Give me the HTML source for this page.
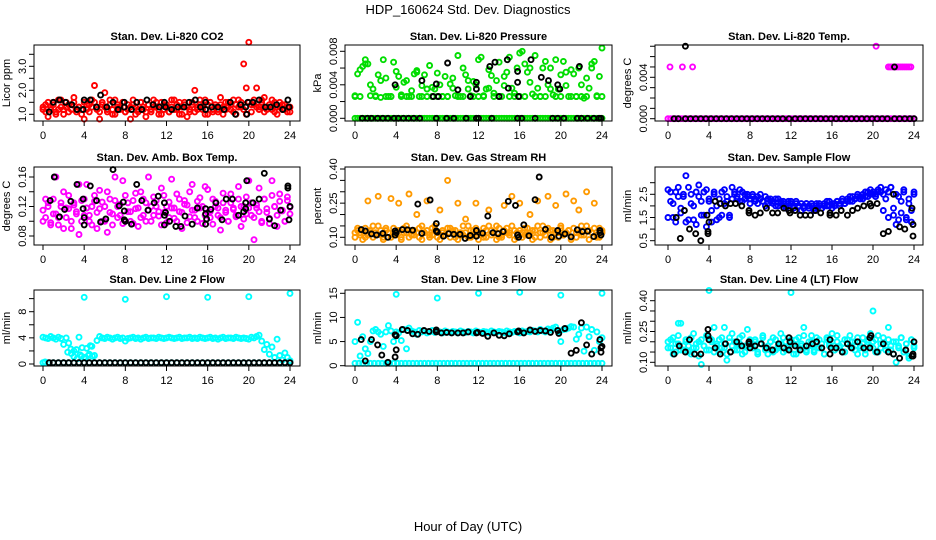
<!DOCTYPE html>
<html><head><meta charset="utf-8"><style>
body{margin:0;background:#fff;}
svg{display:block;font-family:"Liberation Sans",sans-serif;}
</style></head><body>
<svg id="chart" width="936" height="540" viewBox="0 0 936 540" xmlns="http://www.w3.org/2000/svg">
<text x="468" y="14" text-anchor="middle" font-size="13">HDP_160624 Std. Dev. Diagnostics</text>
<text x="468" y="531" text-anchor="middle" font-size="13">Hour of Day (UTC)</text>
</svg>
<script>
// ---- data (hours 0-24; main series evenly spaced over the day) ----
const hourTicks = [0,4,8,12,16,20,24];
const co2A = [1.3,1.1,1.5,1.2,1.4,1.0,1.6,1.3,1.2,1.5,1.1,1.4,1.7,1.2,1.3,1.0,1.5,1.2,1.4,1.6,2.2,1.3,1.1,1.5,1.9,1.2,1.4,1.0,1.6,1.3,1.2,1.5,1.1,1.4,1.3,1.6,1.0,1.2,1.5,1.3,1.1,1.4,1.2,1.6,1.3,1.0,1.5,1.2,1.4,1.1,1.3,1.6,1.2,1.5,1.0,1.4,1.3,1.1,1.5,2.0,1.2,1.4,1.3,1.6,1.0,1.5,1.2,1.4,1.1,1.7,1.3,1.2,1.5,1.4,1.6,1.0,1.3,1.5,3.1,2.1,4.0,1.4,1.6,2.1,1.3,1.5,1.7,1.2,1.4,1.6,1.1,1.3,1.5,1.2,1.4,1.3,1.1];
const co2B = [1.2,1.4,0.9,1.3,1.5,1.1,1.2,1.6,1.0,1.3,1.4,1.2,1.5,1.1,1.3,1.2,0.8,1.4,1.1,1.3,1.5,1.2,0.8,1.4,1.3,1.1,1.6,1.2,1.0,1.4,1.3,1.5,1.1,1.2,0.8,1.4,1.3,1.1,1.5,1.2,0.9,1.4,1.1,1.3,1.5,1.2,1.0,1.4,1.3,1.1,1.6,1.2,1.4,1.0,1.3,1.5,0.9,1.2,1.4,1.1,1.3,1.6,1.2,1.0,1.4,1.5,1.1,1.3,1.2,1.4,1.0,1.5,1.3,1.2,1.1,1.4,1.6,1.3,1.2,1.0,1.5,1.1,1.4,1.3,1.2,1.6,1.1,1.3,1.4,1.2,1.5,1.0,1.3,1.4,1.2,1.1,1.3];
const co2BlackHours = [0.6,1,1.6,2.2,2.8,3.3,3.9,4,4.6,5.2,5.6,6.2,6.8,7.3,7.9,7.9,8.6,9.1,9.6,10.1,10.7,11.3,11.8,11.9,12.5,13.1,13.7,14.2,14.8,15.3,15.8,15.8,16.4,17,17.6,18.2,18.7,19.2,19.7,19.8,19.9,20.4,21,21.6,22.1,22.7,23.3,23.8,23.9];
const co2BlackVals = [1.1,1.5,1.6,1.5,1.4,1.2,1.2,1.6,1.6,1.3,1.8,1.3,1.5,1.2,1.3,1.5,1.2,1.5,1.2,1.6,1.4,1.3,1.5,1.3,1.2,1.3,1.3,1.5,1.6,1.3,1.2,1.5,1.3,1.3,1.2,1.5,1.0,1.4,1.3,1.0,1.5,1.5,1.6,1.3,1.3,1.4,1.2,1.6,1.3];

const pressA = [.0027,.0053,.0058,.0062,.0070,.0065,.0040,.0035,.0027,.0052,.0025,.0070,.0048,.0026,.0026,.0067,.0056,.0050,.0028,.0043,.0045,.0026,.0033,.0053,.0057,.0026,.0039,.0052,.0035,.0063,.0026,.0035,.0054,.0040,.0026,.0050,.0026,.0041,.0048,.0027,.0075,.0026,.0060,.0052,.0035,.0027,.0044,.0040,.0070,.0073,.0027,.0035,.0058,.0051,.0030,.0045,.0067,.0026,.0039,.0055,.0073,.0036,.0030,.0060,.0078,.0080,.0065,.0055,.0043,.0029,.0075,.0036,.0026,.0060,.0068,.0040,.0060,.0028,.0070,.0035,.0052,.0068,.0039,.0026,.0058,.0053,.0026,.0060,.0040,.0024,.0048,.0036,.0065,.0068,.0027,.0050,.0084];
const pressB = [.0026,.0026,.0065,.0027,.0026,.0045,.0026,.0026,.0037,.0026,.0026,.0026,.0055,.0026,.0026,.0037,.0026,.0026,.0026,.0036,.0026,.0026,.0045,.0026,.0026,.0026,.0036,.0026,.0026,.0050,.0026,.0026,.0026,.0026,.0060,.0026,.0026,.0026,.0035,.0026,.0026,.0055,.0026,.0026,.0026,.0026,.0060,.0026,.0026];
const pressZero = [0,0,0,0,0,0,0,0,0,0,0,0,0,0,0,0,0,0,0,0,0,0,0,0,0,0,0,0,0,0,0,0,0,0,0,0,0,0,0,0,0,0,0,0,0,0,0,0,0,0,0,0,0,0,0,0,0,0,0,0,0,0,0,0,0,0,0,0,0,0,0,0,0,0,0,0,0,0,0,0,0,0,0,0,0,0,0,0,0,0,0,0,0,0,0,0,0];
const pressBlackHours = [0.7,1.2,1.6,2.2,2.7,3.2,3.8,4.2,4.7,5.2,5.7,6.3,7.9,8.9,9.6,10.8,11.8,12.0,13.3,15.8,16.2,17.5,19.2,19.7,20.3,21.6,22.0,22.6,23.2,23.7,23.9,3.9,6.5,7.6,7.9,8.1,9.0,10.0,11.2,11.8,11.8,13.1,13.6,14.0,14.9,14.8,15.8,15.8,15.9,17.1,18.1,18.8,19.7,19.9,21.8];
const pressBlackVals = [0,0,0,0,0,0,0,0,0,0,0,0,0,0,0,0,0,0,0,0,0,0,0,0,0,0,0,0,0,0,0,.0040,.0045,.0026,.0041,.0026,.0066,.0034,.0026,.0043,.0035,.0062,.0067,.0026,.0036,.0070,.0056,.0043,.0026,.0070,.0049,.0045,.0040,.0035,.0062];

const tempZero = [0,0,0,0,0,0,0,0,0,0,0,0,0,0,0,0,0,0,0,0,0,0,0,0,0,0,0,0,0,0,0,0,0,0,0,0,0,0,0,0,0,0,0,0,0,0,0,0,0,0,0,0,0,0,0,0,0,0,0,0,0,0,0,0,0,0,0,0,0,0,0,0,0,0,0,0,0,0,0,0,0,0,0,0,0,0,0,0,0,0,0,0,0,0,0,0,0];
const tempHighHours = [0.2,1.4,2.4,20.3,21.5,21.7,21.9,22.1,22.3,22.5,22.7,22.9,23.1,23.3,23.5,23.7];
const tempHighVals = [.005,.005,.005,.007,.005,.005,.005,.005,.005,.005,.005,.005,.005,.005,.005,.005];
const tempBlackHours = [0.6,1.0,1.7,2.2,2.7,3.2,3.7,4.2,4.7,5.2,5.7,6.2,6.7,7.2,7.7,8.2,8.7,9.2,9.7,10.2,10.7,11.2,11.8,12.4,12.9,13.4,13.9,14.4,14.9,15.4,15.9,16.4,16.9,17.4,17.9,18.4,18.9,19.4,19.9,20.4,20.9,21.4,22.1,22.6,23.1,23.6,24.0,1.7,22.1];
const tempBlackVals = [0,0,0,0,0,0,0,0,0,0,0,0,0,0,0,0,0,0,0,0,0,0,0,0,0,0,0,0,0,0,0,0,0,0,0,0,0,0,0,0,0,0,0,0,0,0,0,.007,.005];

const ambA = [.115,.105,.125,.098,.13,.11,.095,.12,.14,.105,.117,.09,.125,.11,.15,.1,.13,.118,.108,.095,.127,.112,.142,.1,.12,.085,.13,.11,.16,.105,.123,.097,.135,.113,.1,.128,.117,.093,.14,.108,.125,.115,.1,.133,.12,.107,.145,.112,.098,.126,.118,.104,.137,.113,.09,.128,.122,.106,.15,.115,.1,.132,.12,.108,.143,.113,.096,.127,.118,.105,.138,.112,.1,.125,.116,.108,.147,.12,.103,.133,.118,.108,.075,.122,.113,.098,.13,.117,.104,.155,.12,.108,.137,.114,.1,.128,.119];
const ambB = [.1,.13,.12,.095,.11,.16,.105,.125,.09,.118,.135,.1,.122,.113,.082,.128,.108,.15,.1,.12,.135,.09,.117,.126,.1,.14,.112,.095,.128,.12,.108,.155,.1,.125,.113,.097,.138,.118,.105,.13,.1,.16,.12,.108,.128,.113,.095,.135,.12,.105,.157,.118,.1,.13,.112,.123,.098,.14,.115,.105,.127,.118,.097,.147,.112,.105,.13,.12,.108,.088,.125,.115,.1,.137,.118,.106,.13,.093,.12,.11,.155,.125,.105,.118,.145,.1,.13,.112,.097,.135,.12,.093,.127,.115,.1,.133,.11];
const ambBlackHours = [0.7,1.1,1.6,2.1,2.7,3.3,3.9,3.9,4,4,4.6,5.2,5.6,6.1,6.8,7.4,7.8,7.9,7.9,8,8.6,9.1,9.6,10.2,10.8,11.2,11.8,11.9,11.8,11.8,12.3,12.9,13.4,13.8,14.5,15,15.8,15.8,15.9,15.8,16.3,16.8,17.4,17.8,18.4,19,19.5,19.7,19.8,19.7,20.4,21,21.5,22,22.5,23.1,23.8,23.8,24,23.9];
const ambBlackVals = [.128,.16,.106,.116,.127,.15,.13,.117,.095,.105,.148,.128,.099,.103,.17,.121,.126,.114,.102,.1,.096,.15,.128,.115,.125,.134,.125,.112,.108,.095,.1,.093,.093,.107,.096,.118,.117,.11,.103,.096,.116,.125,.102,.13,.13,.108,.113,.117,.155,.125,.125,.13,.165,.103,.094,.115,.148,.145,.12,.102];

const rhA = [.12,.14,.11,.13,.1,.26,.12,.15,.11,.28,.13,.1,.14,.12,.27,.11,.13,.25,.1,.14,.12,.29,.11,.13,.2,.1,.15,.12,.26,.11,.14,.13,.1,.22,.12,.11,.35,.14,.13,.1,.25,.12,.11,.18,.15,.1,.13,.25,.12,.11,.14,.1,.22,.13,.12,.15,.1,.11,.24,.14,.12,.28,.13,.1,.25,.12,.11,.14,.2,.13,.1,.26,.12,.15,.11,.28,.13,.1,.24,.12,.14,.11,.29,.13,.1,.26,.12,.22,.15,.11,.3,.13,.12,.25,.1,.14,.12];
const rhB = [.1,.13,.12,.09,.14,.11,.13,.1,.12,.15,.11,.09,.13,.12,.1,.14,.11,.13,.09,.12,.15,.1,.13,.11,.12,.14,.09,.12,.13,.1,.11,.15,.12,.09,.13,.11,.14,.1,.12,.13,.09,.11,.15,.12,.1,.13,.11,.14,.09,.12,.1,.13,.15,.11,.12,.09,.14,.1,.13,.12,.11,.15,.09,.12,.13,.1,.14,.11,.12,.09,.13,.15,.1,.12,.11,.14,.09,.13,.12,.1,.15,.11,.12,.13,.09,.14,.1,.12,.11,.13,.15,.09,.12,.14,.11,.1,.13];
const rhBlackHours = [0.6,1,1.6,2.1,2.7,3.2,3.9,3.9,4,4.6,5.1,5.6,6.1,6.5,7.3,7.9,7.9,8,8.6,9.1,9.6,10.2,10.7,11.2,11.8,11.8,12.4,12.9,13.4,13.9,14.4,14.9,15.6,15.8,15.9,16.4,16.9,17.5,17.9,18.5,19.1,19.7,19.8,20.4,21,21.6,22.1,22.6,23.2,23.8,23.9,23.8];
const rhBlackVals = [.134,.128,.115,.11,.117,.1,.128,.11,.12,.134,.133,.131,.246,.117,.264,.16,.128,.123,.105,.116,.113,.113,.095,.108,.13,.105,.118,.193,.12,.116,.125,.258,.24,.11,.1,.155,.107,.265,.365,.135,.1,.13,.105,.115,.102,.133,.125,.127,.103,.13,.11,.12];

const flowA = [2.7,2.2,1.5,2.6,2.4,1.9,2.5,1.3,2.8,2.1,1.4,2.6,2.9,2.2,1.6,2.7,2.3,1.3,2.5,2.0,1.5,2.6,2.7,2.2,1.6,2.8,2.5,2.3,2.7,2.2,2.5,2.4,2.3,2.5,2.2,2.4,2.3,2.2,2.4,2.1,2.3,2.2,2.0,2.3,2.1,2.2,2.0,2.2,2.1,2.0,2.2,2.0,2.1,1.9,2.1,2.0,2.1,1.9,2.0,2.1,1.9,2.0,2.2,2.0,2.1,2.0,2.2,2.1,2.2,2.1,2.3,2.2,2.4,2.3,2.4,2.3,2.5,2.4,2.6,2.5,2.6,2.5,2.7,2.6,2.5,2.7,2.6,2.8,1.6,2.5,1.4,2.2,2.7,1.5,2.3,1.3,2.6];
const flowB = [1.5,2.6,2.1,1.3,2.8,1.7,2.4,3.3,1.4,2.5,2.0,1.2,2.4,1.6,2.6,1.1,2.2,1.8,2.6,1.4,2.3,1.6,2.1,2.4,1.5,2.3,2.6,2.4,2.2,2.6,2.3,2.5,2.1,2.4,2.3,2.1,2.5,2.2,2.0,2.3,2.2,2.1,2.3,2.0,2.2,2.1,1.9,2.1,2.2,1.9,2.1,2.0,1.8,2.0,2.1,1.9,2.0,1.8,2.1,2.0,1.9,2.1,2.0,2.2,1.9,2.1,2.2,2.0,2.3,2.1,2.2,2.4,2.2,2.3,2.5,2.4,2.3,2.6,2.4,2.7,2.5,2.4,2.6,2.8,1.8,2.3,1.5,2.8,1.9,1.2,2.4,1.7,2.6,1.4,2.1,1.8,2.5];
const flowBlackHours = [0.8,1.2,1.6,2.1,2.7,3.2,3.8,3.9,3.9,4,4.6,5.1,5.6,6.1,6.6,7.2,7.9,7.9,8.5,9,9.6,10.2,10.7,11.3,11.8,11.9,12.4,12.9,13.4,13.9,14.4,14.9,15.8,15.8,16.4,16.9,17.5,18.0,18.5,19.1,19.7,19.8,20.4,21,21.5,22,22.6,23.1,23.8,23.9,23.9];
const flowBlackVals = [1.5,0.6,1.8,1.0,0.8,0.5,1.6,0.9,0.8,1.3,2.2,2.1,2.0,2.1,2.1,2.0,1.8,1.7,1.6,1.7,1.9,1.7,1.7,1.9,1.8,1.7,1.8,1.6,1.6,1.6,1.8,1.7,1.7,1.6,1.6,1.8,1.6,1.8,1.9,2.0,2.1,2.0,2.1,0.8,0.9,2.5,1.1,1.0,1.9,1.2,0.7];

const line2A = [4.1,4.0,3.9,4.2,4.0,3.8,4.1,3.9,3.0,4.0,3.2,1.6,2.0,2.2,4.1,1.2,1.0,2.4,1.5,2.7,1.3,3.6,4.2,4.0,3.9,4.1,4.0,3.8,4.0,4.1,3.9,4.0,3.5,3.9,4.0,4.1,3.9,4.0,3.8,4.0,4.1,3.9,4.0,4.0,3.9,4.1,4.0,3.9,4.0,4.1,4.0,3.9,4.0,4.1,3.9,4.0,4.0,4.1,3.9,4.0,3.9,4.1,4.0,3.9,4.0,4.1,3.9,4.0,3.8,4.0,4.1,3.9,4.0,4.0,3.9,4.1,4.0,3.9,4.0,3.9,3.8,4.1,4.0,4.2,4.4,3.5,2.2,3.0,1.5,2.6,1.0,3.8,1.3,0.6,1.7,1.0,0.5];
const line2ExtraHours = [2.4,2.7,3.0,3.3,3.6,3.8,4.1,4.4,4.6,4.8,0.2,4,8,12,16,20,24];
const line2ExtraVals = [1.8,2.3,1.1,0.8,1.4,2.5,1.0,1.3,2.8,1.2,0.3,10.2,9.9,10.3,10.2,10.3,10.8];
const line2Zero = [.2,.2,.2,.2,.2,.2,.2,.2,.2,.2,.2,.2,.2,.2,.2,.2,.2,.2,.2,.2,.2,.2,.2,.2,.2,.2,.2,.2,.2,.2,.2,.2,.2,.2,.2,.2,.2,.2,.2,.2,.2,.2,.2,.2,.2,.2,.2,.2,.2];
const line2BlackHours = [0.6,1.0,1.5,2.0,2.5,3.0,3.5,4.0,4.5,5.0,5.5,6.0,6.5,7.0,7.5,8.0,8.5,9.0,9.5,10.0,10.5,11.0,11.5,12.0,12.5,13.0,13.5,14.0,14.5,15.0,15.5,16.0,16.5,17.0,17.5,18.0,18.5,19.0,19.5,20.0,20.5,21.0,21.5,22.0,22.5,23.0,23.5,24.0];
const line2BlackVals = [.2,.2,.2,.2,.2,.2,.2,.2,.2,.2,.2,.2,.2,.2,.2,.2,.2,.2,.2,.2,.2,.2,.2,.2,.2,.2,.2,.2,.2,.2,.2,.2,.2,.2,.2,.2,.2,.2,.2,.2,.2,.2,.2,.2,.2,.2,.2,.2];

const line3A = [5.0,9.0,2.0,6.0,3.5,2.5,5.0,7.2,7.5,7.0,6.5,4.0,7.0,8.3,7.2,5.0,7.0,6.8,5.2,7.5,3.5,7.8,7.2,7.0,6.5,7.3,7.0,7.2,6.8,7.0,7.3,6.9,7.1,7.0,6.8,7.2,7.0,6.9,7.1,7.0,6.8,7.2,7.0,6.9,7.1,7.0,6.8,7.2,7.0,6.9,7.1,7.0,6.8,7.2,7.0,6.9,7.1,7.0,6.8,7.2,7.0,6.9,7.1,7.0,6.8,7.2,7.0,7.1,7.0,7.3,7.2,7.0,7.5,7.2,7.0,7.6,7.4,7.8,8.0,7.0,5.0,7.5,7.6,7.8,8.1,8.0,5.5,6.5,7.8,3.0,8.0,6.0,7.5,3.2,7.0,5.0,5.8];
const line3SpikeHours = [4,8,12,16,20,24];
const line3SpikeVals = [14.8,14.0,15.0,15.2,14.6,15.0];
const line3Zero = [.5,.5,.5,.5,.5,.5,.5,.5,.5,.5,.5,.5,.5,.5,.5,.5,.5,.5,.5,.5,.5,.5,.5,.5,.5,.5,.5,.5,.5,.5,.5,.5,.5,.5,.5,.5,.5,.5,.5,.5,.5,.5,.5,.5,.5,.5,.5,.5,.5,.5,.5,.5,.5,.5,.5,.5,.5,.5,.5,.5,.5,.5,.5,.5,.5];
const line3BlackHours = [0.6,1,1.6,2.2,2.6,3.2,3.9,3.9,4,4,4.6,5.1,5.6,6.1,6.7,7.2,7.9,7.9,8.4,8.9,9.4,10,10.5,11.0,11.8,11.9,12.4,12.9,13.5,14,14.5,15.0,15.8,15.9,16.4,17.0,17.5,18.0,18.5,19.0,19.7,19.8,20.4,21.0,21.5,22.0,22.5,23.0,23.8,23.9,23.9,24];
const line3BlackVals = [5.4,1.0,5.4,4.3,2.2,0.7,6.4,1.8,3.3,6.2,7.5,7.3,6.6,6.5,7.3,7.1,7.4,7.0,6.8,6.9,6.8,6.8,6.8,7.0,6.8,6.9,6.7,6.1,6.8,6.3,6.2,6.6,7.0,7.2,6.8,7.4,7.1,7.3,7.2,6.9,7.3,6.7,7.7,2.6,3.2,8.9,4.3,2.4,5.4,3.7,2.8,4.0];

const line4A = [.2,.17,.22,.15,.19,.29,.16,.21,.18,.14,.24,.17,.2,.09,.18,.23,.16,.21,.27,.19,.15,.22,.17,.11,.2,.24,.16,.19,.22,.14,.18,.26,.2,.17,.21,.15,.19,.23,.17,.14,.2,.22,.16,.18,.24,.15,.2,.17,.21,.19,.14,.22,.18,.27,.16,.2,.23,.15,.19,.21,.17,.14,.22,.19,.24,.16,.2,.18,.15,.21,.19,.23,.17,.2,.14,.18,.22,.16,.2,.24,.17,.21,.15,.19,.22,.18,.27,.16,.2,.1,.18,.22,.15,.19,.12,.21,.17];
const line4B = [.17,.21,.14,.19,.23,.16,.18,.2,.15,.22,.17,.19,.13,.21,.18,.16,.22,.2,.15,.18,.21,.17,.19,.14,.22,.18,.2,.16,.19,.23,.15,.18,.21,.17,.2,.14,.19,.22,.16,.18,.2,.15,.21,.17,.19,.22,.16,.18,.2,.14,.21,.17,.19,.23,.15,.18,.2,.16,.22,.17,.19,.14,.21,.18,.2,.16,.23,.17,.19,.15,.21,.18,.2,.16,.22,.17,.19,.14,.21,.18,.2,.15,.23,.17,.19,.16,.21,.18,.14,.2,.17,.22,.15,.19,.13,.21,.18];
const line4SpikeHours = [4,12,20,1,5.5];
const line4SpikeVals = [.45,.44,.35,.29,.27];
const line4BlackHours = [0.6,1.1,1.7,2.1,2.6,3.2,3.9,3.9,4,4.6,5.1,5.6,6.1,6.7,7.2,7.9,7.9,8.0,8.5,9.1,9.6,10.2,10.8,11.3,11.8,11.8,11.9,12.4,12.9,13.5,14.1,14.5,15.0,15.8,15.8,15.9,16.4,17.0,17.5,17.9,18.5,19.1,19.7,19.8,19.7,20.4,21,21.5,22,22.6,23.2,23.8,23.9,24,23.9];
const line4BlackVals = [.14,.18,.15,.21,.14,.14,.26,.23,.21,.17,.14,.19,.15,.2,.18,.2,.19,.17,.18,.19,.17,.16,.19,.17,.22,.16,.2,.18,.16,.18,.19,.2,.17,.21,.14,.17,.17,.15,.19,.17,.2,.17,.22,.23,.17,.15,.19,.15,.14,.12,.16,.13,.14,.2,.13];

// ---- layout ----
const SVGNS = "http://www.w3.org/2000/svg";
const svg = document.getElementById('chart');
function mk(tag, attrs, parent){
  const e = document.createElementNS(SVGNS, tag);
  for (const k in attrs) e.setAttribute(k, attrs[k]);
  (parent||svg).appendChild(e);
  return e;
}
const cols = [{bx0:34,bx1:300,h0:43,h24:290},{bx0:345,bx1:612,h0:355,h24:602},{bx0:655,bx1:923,h0:668,h24:914}];
const rows = [{by0:45,by1:121,ty:40},{by0:167,by1:245,ty:161},{by0:290,by1:366,ty:283}];

const panels = [
 {name:'co2', title:'Stan. Dev. Li-820 CO2', ylab:'Licor ppm', c:0,r:0, v0:1,p0:114.3,v1:3,p1:66.3, ticks:[1,1.5,2,2.5,3,3.5], labels:['1.0','2.0','3.0'], lv:[1,2,3],
  series:[{v:co2B,col:'#ff0000'},{v:co2A,col:'#ff0000'},{h:co2BlackHours,v:co2BlackVals,col:'#000'}]},
 {name:'pressure', title:'Stan. Dev. Li-820 Pressure', ylab:'kPa', c:1,r:0, v0:0,p0:118.3,v1:.008,p1:51.3, ticks:[0,.002,.004,.006,.008], labels:['0.000','0.004','0.008'], lv:[0,.004,.008],
  series:[{v:pressZero,col:'#00dd00'},{v:pressB,col:'#00dd00'},{v:pressA,col:'#00dd00'},{h:pressBlackHours,v:pressBlackVals,col:'#000'}]},
 {name:'li820-temp', title:'Stan. Dev. Li-820 Temp.', ylab:'degrees C', c:2,r:0, v0:0,p0:118.7,v1:.004,p1:77.3, ticks:[0,.001,.002,.003,.004,.005,.006,.007], labels:['0.000','0.004'], lv:[0,.004],
  series:[{v:tempZero,col:'#ff00ff'},{h:tempHighHours,v:tempHighVals,col:'#ff00ff'},{h:tempBlackHours,v:tempBlackVals,col:'#000'}]},
 {name:'amb-box-temp', title:'Stan. Dev. Amb. Box Temp.', ylab:'degrees C', c:0,r:1, v0:.08,p0:236,v1:.16,p1:177, ticks:[.08,.1,.12,.14,.16], labels:['0.08','0.12','0.16'], lv:[.08,.12,.16],
  series:[{v:ambB,col:'#ff00ff'},{v:ambA,col:'#ff00ff'},{h:ambBlackHours,v:ambBlackVals,col:'#000'}]},
 {name:'gas-stream-rh', title:'Stan. Dev. Gas Stream RH', ylab:'percent', c:1,r:1, v0:.1,p0:237.3,v1:.4,p1:169, ticks:[.1,.15,.2,.25,.3,.35,.4], labels:['0.10','0.25','0.40'], lv:[.1,.25,.4],
  series:[{v:rhB,col:'#ff9a00'},{v:rhA,col:'#ff9a00'},{h:rhBlackHours,v:rhBlackVals,col:'#000'}]},
 {name:'sample-flow', title:'Stan. Dev. Sample Flow', ylab:'ml/min', c:2,r:1, v0:.5,p0:240.7,v1:2.5,p1:194.3, ticks:[.5,1,1.5,2,2.5,3], labels:['0.5','1.5','2.5'], lv:[.5,1.5,2.5],
  series:[{v:flowB,col:'#0000ff'},{v:flowA,col:'#0000ff'},{h:flowBlackHours,v:flowBlackVals,col:'#000'}]},
 {name:'line2-flow', title:'Stan. Dev. Line 2 Flow', ylab:'ml/min', c:0,r:2, v0:0,p0:364,v1:8,p1:311.7, ticks:[0,2,4,6,8,10], labels:['0','4','8'], lv:[0,4,8],
  series:[{v:line2Zero,col:'#00ffff'},{v:line2A,col:'#00ffff'},{h:line2ExtraHours,v:line2ExtraVals,col:'#00ffff'},{h:line2BlackHours,v:line2BlackVals,col:'#000'}]},
 {name:'line3-flow', title:'Stan. Dev. Line 3 Flow', ylab:'ml/min', c:1,r:2, v0:0,p0:365.7,v1:15,p1:293.3, ticks:[0,5,10,15], labels:['0','5','10','15'], lv:[0,5,10,15],
  series:[{v:line3Zero,col:'#00ffff'},{v:line3A,col:'#00ffff'},{h:line3SpikeHours,v:line3SpikeVals,col:'#00ffff'},{h:line3BlackHours,v:line3BlackVals,col:'#000'}]},
 {name:'line4-flow', title:'Stan. Dev. Line 4 (LT) Flow', ylab:'ml/min', c:2,r:2, v0:.1,p0:362.3,v1:.4,p1:300.7, ticks:[.1,.15,.2,.25,.3,.35,.4], labels:['0.10','0.25','0.40'], lv:[.1,.25,.4],
  series:[{v:line4B,col:'#00ffff'},{v:line4A,col:'#00ffff'},{h:line4SpikeHours,v:line4SpikeVals,col:'#00ffff'},{h:line4BlackHours,v:line4BlackVals,col:'#000'}]}
];

panels.forEach(p=>{
  const C = cols[p.c], R = rows[p.r];
  const xs = h => C.h0 + (C.h24 - C.h0) * h / 24;
  const ys = v => p.p0 + (p.p1 - p.p0) * (v - p.v0) / (p.v1 - p.v0);
  const g = mk('g', {});
  
  
  const t = mk('text', {x:(C.bx0+C.bx1)/2, y:R.ty, 'text-anchor':'middle', 'font-size':'11', 'font-weight':'bold'}, g);
  t.textContent = p.title;
  
  
  const pg = mk('g', {fill:'none', 'stroke-width':'1.9'}, g);
  
  
  p.series.forEach(s=>{
    const n = s.v.length;
    s.v.forEach((v,i)=>{
      const h = s.h ? s.h[i] : i * 24 / (n - 1);
      const c = mk('circle', {cx:xs(h).toFixed(1), cy:ys(v).toFixed(1), r:'2.5', stroke:s.col}, pg);
      
      
    });
  });
  const b = mk('rect', {x:C.bx0, y:R.by0, width:C.bx1-C.bx0, height:R.by1-R.by0, fill:'none', stroke:'#000', 'stroke-width':'1'}, g);
  
  
  const xa = mk('g', {}, g);
  
  
  hourTicks.forEach(h=>{
    mk('line', {x1:xs(h), x2:xs(h), y1:R.by1, y2:R.by1+5, stroke:'#000'}, xa);
    const tl = mk('text', {x:xs(h), y:R.by1+18, 'text-anchor':'middle', 'font-size':'11'}, xa);
    tl.textContent = h;
    
    
  });
  const ya = mk('g', {}, g);
  
  
  p.ticks.forEach(v=>{
    mk('line', {x1:C.bx0-5, x2:C.bx0, y1:ys(v), y2:ys(v), stroke:'#000'}, ya);
  });
  p.lv.forEach((v,i)=>{
    const lx = C.bx0 - 8, ly = ys(v);
    const tl = mk('text', {x:lx, y:ly, 'text-anchor':'middle', 'font-size':'11', transform:`rotate(-90 ${lx} ${ly})`}, ya);
    tl.textContent = p.labels[i];
    
    
  });
  const yx = C.bx0 - 24, yy = (R.by0 + R.by1) / 2;
  const yl = mk('text', {x:yx, y:yy, 'text-anchor':'middle', 'font-size':'11', transform:`rotate(-90 ${yx} ${yy})`}, g);
  yl.textContent = p.ylab;
  
  
});
</script>
</body></html>
